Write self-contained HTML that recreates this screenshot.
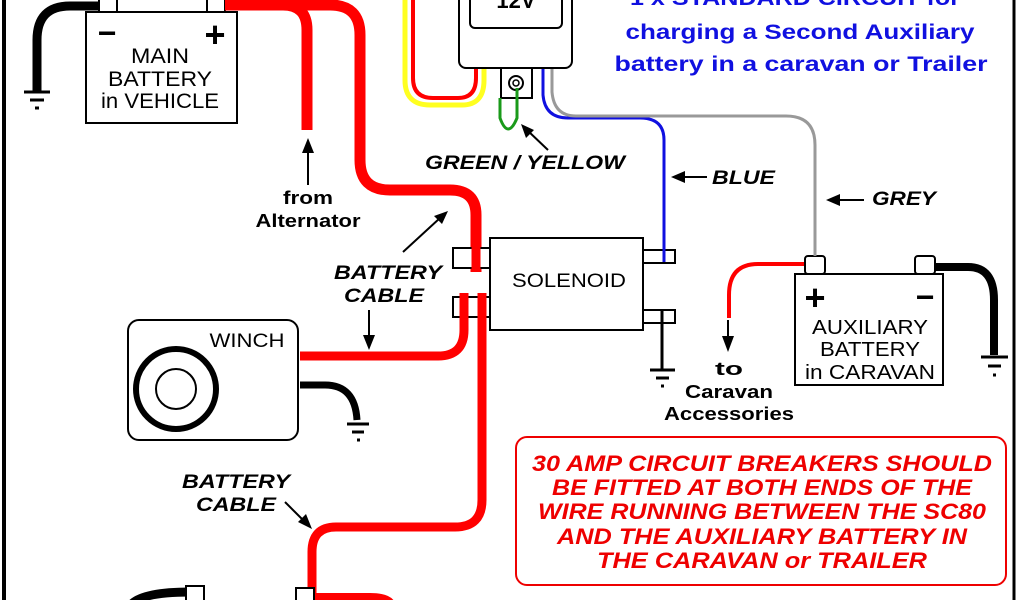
<!DOCTYPE html>
<html><head><meta charset="utf-8"><style>
html,body{margin:0;padding:0;background:#fff}
svg{display:block}
text{font-family:"Liberation Sans",sans-serif}
.b{font-weight:bold}
.i{font-style:italic;font-weight:bold}
</style></head><body>
<svg width="1024" height="600" viewBox="0 0 1024 600" xmlns="http://www.w3.org/2000/svg">
<rect width="1024" height="600" fill="#fff"/>
<line x1="4" y1="0" x2="4" y2="600" stroke="#000" stroke-width="4"/>
<line x1="1014" y1="0" x2="1014" y2="600" stroke="#000" stroke-width="3"/>

<path d="M405 0 V80 Q405 105 430 105 H462 Q484 105 484 80 V66" fill="none" stroke="#ffff20" stroke-width="5"/>
<path d="M413 0 V78 Q413 98 433 98 H458 Q476 98 476 78 V66" fill="none" stroke="#f00" stroke-width="4"/>
<path d="M543 68 V95 Q545 118 568 118 H640 Q664 118 664 140 V262" fill="none" stroke="#1010e0" stroke-width="3"/>
<path d="M552 68 V92 Q554 116 576 116 H786 Q815 116 815 145 V262" fill="none" stroke="#999" stroke-width="3"/>

<rect x="459" y="-10" width="113" height="78" rx="7" fill="#fff" stroke="#000" stroke-width="2"/>
<rect x="470" y="-10" width="92" height="38" rx="5" fill="#fff" stroke="#000" stroke-width="2"/>
<text x="516" y="8" font-size="22" class="b" text-anchor="middle">12V</text>
<rect x="501" y="68" width="31" height="30" fill="#fff" stroke="#000" stroke-width="2"/>
<circle cx="516" cy="83" r="7" fill="none" stroke="#000" stroke-width="2"/>
<circle cx="516" cy="83" r="3" fill="none" stroke="#000" stroke-width="1.5"/>
<path d="M500 98 V118 Q508 140 517 118 V88" fill="none" stroke="#1a9a1a" stroke-width="3"/>

<g fill="#1010e0" class="b" font-size="21" text-anchor="middle" lengthAdjust="spacingAndGlyphs">
<text x="795" y="5" textLength="330" lengthAdjust="spacingAndGlyphs">1 x STANDARD CIRCUIT for</text>
<text x="800" y="39" textLength="349" lengthAdjust="spacingAndGlyphs">charging a Second Auxiliary</text>
<text x="801" y="71" textLength="373" lengthAdjust="spacingAndGlyphs">battery in a caravan or Trailer</text>
</g>

<path d="M108 6 H70 Q37 6 37 40 V92" fill="none" stroke="#000" stroke-width="9"/>
<g stroke="#000" stroke-width="3"><line x1="24" y1="92" x2="50" y2="92"/><line x1="30" y1="100" x2="44" y2="100"/><line x1="35" y1="108" x2="39" y2="108"/></g>
<rect x="99" y="-4" width="18" height="16" fill="#fff" stroke="#000" stroke-width="2"/>
<rect x="207" y="-4" width="18" height="16" fill="#fff" stroke="#000" stroke-width="2"/>
<rect x="86" y="12" width="151" height="111" fill="#fff" stroke="#000" stroke-width="2"/>
<text x="107" y="44" font-size="32" class="b" text-anchor="middle">−</text>
<text x="215" y="47" font-size="36" class="b" text-anchor="middle">+</text>
<g font-size="21" text-anchor="middle"><text x="160" y="63" textLength="58" lengthAdjust="spacingAndGlyphs">MAIN</text><text x="160" y="86" textLength="104" lengthAdjust="spacingAndGlyphs">BATTERY</text><text x="160" y="108" textLength="118" lengthAdjust="spacingAndGlyphs">in VEHICLE</text></g>

<path d="M225 5 H283 Q307 5 307 30 V130" fill="none" stroke="#f00" stroke-width="11"/>
<path d="M280 5 H330 Q360 5 360 35 V160 Q360 190 390 190 H450 Q476 190 476 215 V272" fill="none" stroke="#f00" stroke-width="11"/>
<line x1="308" y1="185" x2="308" y2="150" stroke="#000" stroke-width="2"/>
<polygon points="308,138 302,153 314,153" fill="#000"/>
<g class="b" font-size="18" text-anchor="middle"><text x="308" y="204" textLength="50" lengthAdjust="spacingAndGlyphs">from</text><text x="308" y="227" textLength="105" lengthAdjust="spacingAndGlyphs">Alternator</text></g>

<rect x="453" y="248" width="37" height="20" fill="#fff" stroke="#000" stroke-width="2"/>
<rect x="453" y="297" width="37" height="20" fill="#fff" stroke="#000" stroke-width="2"/>
<rect x="643" y="250" width="32" height="13" fill="#fff" stroke="#000" stroke-width="2"/>
<rect x="643" y="310" width="32" height="13" fill="#fff" stroke="#000" stroke-width="2"/>
<rect x="490" y="238" width="153" height="92" fill="#fff" stroke="#000" stroke-width="2"/>
<text x="569" y="287" font-size="19" text-anchor="middle" textLength="114" lengthAdjust="spacingAndGlyphs">SOLENOID</text>
<line x1="476" y1="230" x2="476" y2="270" stroke="#f00" stroke-width="9"/>
<line x1="664" y1="240" x2="664" y2="262" stroke="#1010e0" stroke-width="3"/>
<path d="M464 293 V330 Q464 356 438 356 H300" fill="none" stroke="#f00" stroke-width="9"/>
<path d="M482 293 V500 Q482 527 455 527 H336 Q312 527 312 552 V600" fill="none" stroke="#f00" stroke-width="9"/>
<line x1="662" y1="310" x2="662" y2="370" stroke="#000" stroke-width="3"/>
<g stroke="#000" stroke-width="3"><line x1="650" y1="370" x2="675" y2="370"/><line x1="656" y1="378" x2="669" y2="378"/><line x1="661" y1="386" x2="664" y2="386"/></g>

<line x1="403" y1="252" x2="440" y2="218" stroke="#000" stroke-width="2"/>
<polygon points="448,211 434,216 442,224" fill="#000"/>
<g class="i" font-size="19" text-anchor="middle"><text x="388" y="279" textLength="108" lengthAdjust="spacingAndGlyphs">BATTERY</text><text x="384" y="302" textLength="80" lengthAdjust="spacingAndGlyphs">CABLE</text></g>
<line x1="369" y1="310" x2="369" y2="340" stroke="#000" stroke-width="2"/>
<polygon points="369,350 363,335 375,335" fill="#000"/>

<rect x="128" y="320" width="170" height="120" rx="11" fill="#fff" stroke="#000" stroke-width="2"/>
<circle cx="176" cy="389" r="40" fill="none" stroke="#000" stroke-width="6"/>
<circle cx="176" cy="389" r="20" fill="none" stroke="#000" stroke-width="2"/>
<text x="247" y="347" font-size="19" text-anchor="middle" textLength="75" lengthAdjust="spacingAndGlyphs">WINCH</text>
<path d="M300 385 H325 Q355 385 357 420" fill="none" stroke="#000" stroke-width="7"/>
<g stroke="#000" stroke-width="3"><line x1="347" y1="424" x2="369" y2="424"/><line x1="352" y1="432" x2="364" y2="432"/><line x1="357" y1="440" x2="360" y2="440"/></g>

<g class="i" font-size="19" text-anchor="middle"><text x="236" y="488" textLength="108" lengthAdjust="spacingAndGlyphs">BATTERY</text><text x="236" y="511" textLength="80" lengthAdjust="spacingAndGlyphs">CABLE</text></g>
<line x1="285" y1="502" x2="305" y2="522" stroke="#000" stroke-width="2"/>
<polygon points="312,529 298,522 306,514" fill="#000"/>

<path d="M130 606 Q140 592 190 592" fill="none" stroke="#000" stroke-width="9"/>
<rect x="186" y="586" width="18" height="20" fill="#fff" stroke="#000" stroke-width="2"/>
<path d="M315 597 H370 Q390 597 392 606" fill="none" stroke="#f00" stroke-width="8"/>
<rect x="296" y="588" width="18" height="18" fill="#fff" stroke="#000" stroke-width="2"/>

<text x="525" y="169" class="i" font-size="19" text-anchor="middle" textLength="200" lengthAdjust="spacingAndGlyphs">GREEN / YELLOW</text>
<line x1="548" y1="150" x2="527" y2="130" stroke="#000" stroke-width="2"/>
<polygon points="521,124 526,138 534,130" fill="#000"/>
<text x="712" y="184" class="i" font-size="19" textLength="63" lengthAdjust="spacingAndGlyphs">BLUE</text>
<line x1="707" y1="177" x2="684" y2="177" stroke="#000" stroke-width="2"/>
<polygon points="671,177 685,171 685,183" fill="#000"/>
<text x="872" y="205" class="i" font-size="19" textLength="64" lengthAdjust="spacingAndGlyphs">GREY</text>
<line x1="864" y1="200" x2="838" y2="200" stroke="#000" stroke-width="2"/>
<polygon points="826,200 840,194 840,206" fill="#000"/>

<path d="M806 264 H758 Q729 264 729 295 V318" fill="none" stroke="#f00" stroke-width="4"/>
<line x1="728" y1="320" x2="728" y2="340" stroke="#000" stroke-width="2"/>
<polygon points="728,352 722,336 734,336" fill="#000"/>
<g class="b" font-size="18" text-anchor="middle"><text x="729" y="375" textLength="28" lengthAdjust="spacingAndGlyphs">to</text><text x="729" y="398" textLength="88" lengthAdjust="spacingAndGlyphs">Caravan</text><text x="729" y="420" textLength="130" lengthAdjust="spacingAndGlyphs">Accessories</text></g>
<path d="M934 267 H968 Q994 267 994 300 V355" fill="none" stroke="#000" stroke-width="8"/>
<g stroke="#000" stroke-width="3"><line x1="981" y1="357" x2="1008" y2="357"/><line x1="988" y1="366" x2="1001" y2="366"/><line x1="993" y1="375" x2="996" y2="375"/></g>
<rect x="805" y="256" width="20" height="18" rx="3" fill="#fff" stroke="#000" stroke-width="2"/>
<rect x="915" y="256" width="20" height="18" rx="3" fill="#fff" stroke="#000" stroke-width="2"/>
<rect x="795" y="274" width="148" height="111" fill="#fff" stroke="#000" stroke-width="2"/>
<text x="815" y="310" font-size="36" class="b" text-anchor="middle">+</text>
<text x="925" y="308" font-size="32" class="b" text-anchor="middle">−</text>
<g font-size="20" text-anchor="middle"><text x="870" y="334" textLength="116" lengthAdjust="spacingAndGlyphs">AUXILIARY</text><text x="870" y="356" textLength="100" lengthAdjust="spacingAndGlyphs">BATTERY</text><text x="870" y="379" textLength="130" lengthAdjust="spacingAndGlyphs">in CARAVAN</text></g>
<line x1="815" y1="240" x2="815" y2="256" stroke="#999" stroke-width="3"/>

<rect x="516" y="437" width="490" height="148" rx="11" fill="#fff" stroke="#e00" stroke-width="2"/>
<g fill="#e00" class="i" font-size="22" text-anchor="middle">
<text x="762" y="471" textLength="460" lengthAdjust="spacingAndGlyphs">30 AMP CIRCUIT BREAKERS SHOULD</text>
<text x="762" y="495" textLength="420" lengthAdjust="spacingAndGlyphs">BE FITTED AT BOTH ENDS OF THE</text>
<text x="762" y="519" textLength="448" lengthAdjust="spacingAndGlyphs">WIRE RUNNING BETWEEN THE SC80</text>
<text x="762" y="544" textLength="410" lengthAdjust="spacingAndGlyphs">AND THE AUXILIARY BATTERY IN</text>
<text x="762" y="568" textLength="330" lengthAdjust="spacingAndGlyphs">THE CARAVAN or TRAILER</text>
</g>
</svg>
</body></html>
